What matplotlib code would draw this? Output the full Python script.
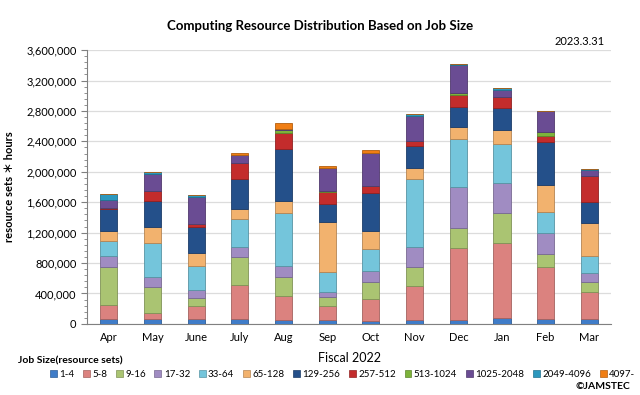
import numpy as np
import matplotlib
matplotlib.use('Agg')
import matplotlib.pyplot as plt
from matplotlib.ticker import FuncFormatter, MultipleLocator
from matplotlib.patches import Patch
from matplotlib.colors import to_rgb

plt.rcParams['font.family'] = ['Lato', 'DejaVu Sans', 'Noto Sans CJK JP']

months = ['Apr', 'May', 'June', 'July', 'Aug', 'Sep', 'Oct', 'Nov', 'Dec', 'Jan', 'Feb', 'Mar']
job_sizes = ['1-4', '5-8', '9-16', '17-32', '33-64', '65-128', '129-256', '257-512',
             '513-1024', '1025-2048', '2049-4096', '4097-']

# values in thousands of (resource sets * hours)
s_1_4 = [66, 61, 61, 61, 53, 53, 39, 53, 53, 75, 66, 66]
s_5_8 = [188, 79, 176, 451, 319, 188, 285, 446, 941, 993, 687, 359]
s_9_16 = [499, 342, 101, 372, 246, 109, 232, 246, 272, 394, 167, 131]
s_17_32 = [140, 131, 109, 123, 144, 75, 144, 271, 530, 391, 280, 110]
s_33_64 = [201, 447, 319, 373, 692, 263, 290, 885, 635, 508, 276, 223]
s_65_128 = [124, 210, 171, 135, 166, 656, 232, 145, 153, 192, 350, 442]
s_129_256 = [293, 346, 333, 386, 679, 233, 499, 297, 263, 281, 561, 276]
s_257_512 = [15, 136, 44, 218, 215, 157, 92, 61, 162, 145, 83, 338]
s_513_1024 = [0, 0, 0, 0, 30, 10, 0, 0, 30, 0, 53, 0]
s_1025_2048 = [103, 219, 359, 105, 14, 310, 430, 333, 364, 96, 276, 78]
s_2049_4096 = [75, 22, 18, 0, 0, 0, 0, 22, 13, 22, 0, 9]
s_4097 = [0, 0, 0, 27, 79, 26, 43, 0, 0, 0, 0, 0]

series = [s_1_4, s_5_8, s_9_16, s_17_32, s_33_64, s_65_128, s_129_256,
          s_257_512, s_513_1024, s_1025_2048, s_2049_4096, s_4097]

colors = ['#3F7CC8', '#DB827F', '#AAC472', '#A08CC2', '#74C5DB', '#F2B26E',
          '#24508A', '#C32C2C', '#7DB33A', '#6A4C93', '#2C98BE', '#F07E14']


def darker(c, f=0.75):
    r, g, b = to_rgb(c)
    return (r * f, g * f, b * f)


fig = plt.figure(figsize=(6.4, 3.95), dpi=100)
ax = fig.add_axes([0.136, 0.180, 0.819, 0.693])

x = np.arange(len(months))
bottom = np.zeros(len(months))
for vals, col in zip(series, colors):
    v = np.array(vals) * 1000.0
    ax.bar(x, v, width=0.39, bottom=bottom, color=col, edgecolor=darker(col), linewidth=0.6, zorder=3)
    bottom += v

ax.set_xlim(-0.5, len(months) - 0.5)
ax.set_ylim(0, 3600000)
ax.yaxis.set_major_locator(MultipleLocator(400000))
ax.yaxis.set_minor_locator(MultipleLocator(80000))
ax.yaxis.set_major_formatter(FuncFormatter(lambda v, p: '{:,.0f}'.format(v)))
ax.grid(axis='y', color='#DCDCDC', linewidth=0.9, zorder=0)
ax.set_xticks(x)
ax.set_xticklabels(months, fontsize=8)
ax.tick_params(axis='x', length=0, pad=6)
ax.tick_params(axis='y', which='major', labelsize=8, length=4, color='#808080')
ax.tick_params(axis='y', which='minor', length=2, color='#808080')
for s in ['top', 'right']:
    ax.spines[s].set_visible(False)
for s in ['left', 'bottom']:
    ax.spines[s].set_color('#808080')

ax.set_ylabel('resource sets ＊ hours', fontsize=8, fontweight='bold', labelpad=8)
ax.set_xlabel('Fiscal 2022', fontsize=9, labelpad=6)

fig.text(0.5, 0.935, 'Computing Resource Distribution Based on Job Size',
         ha='center', va='center', fontsize=9.5, fontweight='bold')
fig.text(0.945, 0.895, '2023.3.31', ha='right', va='center', fontsize=8)
fig.text(0.028, 0.085, 'Job Size(resource sets)', ha='left', va='center', fontsize=7.5, fontweight='bold')
fig.text(0.985, 0.022, '©JAMSTEC', ha='right', va='center', fontsize=7.5, fontweight='bold')

handles = [Patch(facecolor=c, edgecolor=darker(c), linewidth=0.5) for c in colors]
fig.legend(handles, job_sizes, loc='center', bbox_to_anchor=(0.535, 0.052), ncol=12,
           frameon=False, fontsize=7, handlelength=0.7, handleheight=0.7,
           handletextpad=0.25, columnspacing=0.9, borderaxespad=0)

fig.savefig('out.png', dpi=100)
